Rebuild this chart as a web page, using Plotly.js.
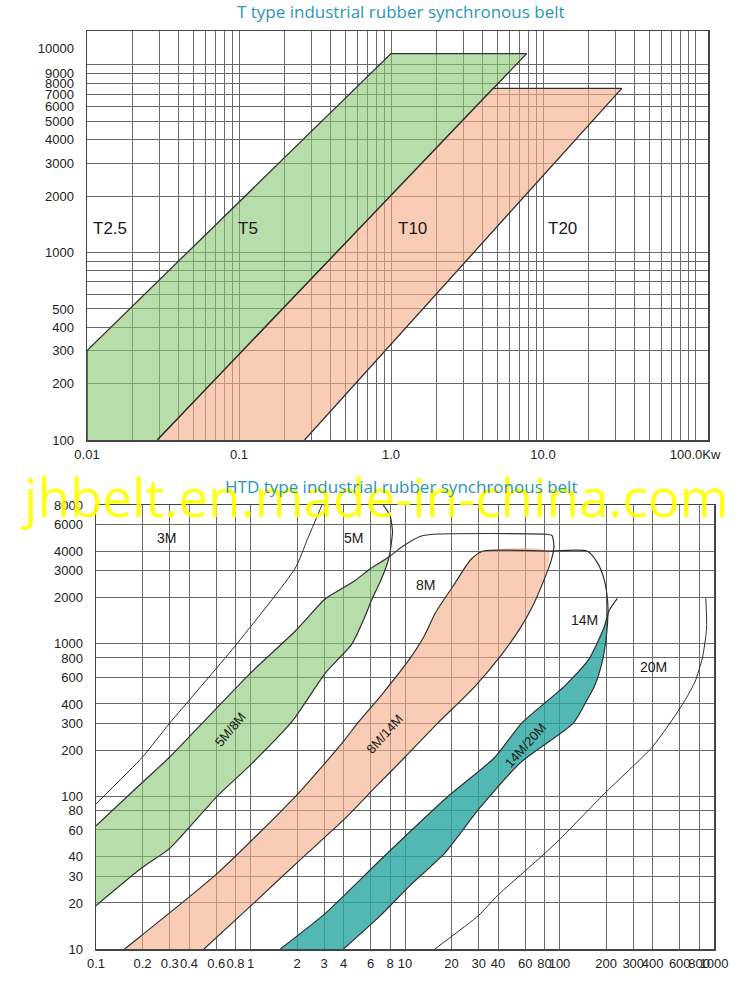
<!DOCTYPE html>
<html><head><meta charset="utf-8">
<script src="https://cdn.plot.ly/plotly-3.0.1.min.js"></script>
<style>html,body{margin:0;padding:0;background:#fff}#chart{width:750px;height:985px}</style>
</head><body><div id="chart"></div>
<script>
// ---------- TOP CHART (T type) ----------
const topXTicks = [0.01,0.02,0.03,0.04,0.05,0.06,0.07,0.08,0.09,0.1,0.2,0.3,0.4,0.5,0.6,0.7,0.8,0.9,1,2,3,4,5,6,7,8,9,10,20,30,40,50,60,70,80,90,100];
const topXText  = ['0.01','','','','','','','','','0.1','','','','','','','','','1.0','','','','','','','','','10.0','','','','','','','','','100.0Kw'];
const topYTicks = [100,200,300,400,500,600,700,800,900,1000,2000,3000,4000,5000,6000,7000,8000,9000,10000];
const topYText  = ['100','200','300','400','500','','','','','1000','2000','3000','4000','5000','6000','7000','8000','9000','10000<br> <br> '];

const t5X = [0.01, 0.01, 1.0, 7.8, 0.029];
const t5Y = [100, 300, 11500, 11500, 100];
const t10X = [0.029, 4.7, 33, 0.27];
const t10Y = [100, 7500, 7500, 100];

// ---------- BOTTOM CHART (HTD type) ----------
const botXTicks = [0.1,0.2,0.3,0.4,0.6,0.8,1,2,3,4,6,8,10,20,30,40,60,80,100,200,300,400,600,800,1000];
const botXText  = ['0.1','0.2','0.3','0.4','0.6','0.8','1','2','3','4','6','8','10','20','30','40','60','80','100','200','300','400','600','800','1000'];
const botYTicks = [10,20,30,40,60,80,100,200,300,400,600,800,1000,2000,3000,4000,6000,8000];
const botYText  = ['10','20','30','40','60','80','100','200','300','400','600','800','1000','2000','3000','4000','6000','8000'];

const m3X = [0.1, 0.2, 0.3, 0.79, 1.95, 2.33, 2.9];
const m3Y = [89, 180, 300, 950, 3100, 4750, 8000];

const greenUpperX = [0.1, 0.2, 0.3, 0.5, 1.0, 1.95, 3.05, 3.72, 4.73, 6.0, 7.9];
const greenUpperY = [64, 123, 180, 308, 637, 1200, 1950, 2210, 2560, 3080, 3670];
const greenLowerX = [0.1, 0.2, 0.3, 0.61, 1.0, 1.87, 3.05, 4.54, 5.44, 6.1, 6.87, 7.47, 7.9];
const greenLowerY = [19.2, 34.2, 45.5, 100, 160, 310, 637, 990, 1450, 1930, 2490, 3050, 3670];
const m5CapX = [8.18, 8.3, 8.0, 7.23];
const m5CapY = [4610, 5370, 6800, 8000];
const m8TopX = [9.57, 12.5, 15.1, 82.6, 89.5, 92, 88];
const m8TopY = [4260, 4980, 5150, 5150, 5050, 4260, 3420];

const pinkLeftX = [0.153, 0.2, 0.61, 2.02, 4, 4.93, 7.11, 10.6, 13.3, 15.8, 20.6, 26.6, 32.1];
const pinkLeftY = [10, 12.4, 31.2, 103, 228, 300, 463, 776, 1110, 1590, 2380, 3510, 4000];
const pinkRightX = [85.3, 80, 67.5, 55.3, 42.2, 27.8, 16.3, 9.9, 6.52, 4, 2.02, 1.08, 0.5];
const pinkRightY = [4000, 2640, 1770, 1240, 842, 510, 300, 178, 116, 69.8, 37, 20.5, 10];

const m14CapX = [151, 177, 194, 203, 206];
const m14CapY = [4000, 3320, 2630, 2060, 1620];
const tealLowerX = [200, 187, 169, 151, 123, 56.9, 30, 18.2, 10.6, 6.87, 4];
const tealLowerY = [1060, 720, 527, 427, 300, 168, 82, 42.7, 25.6, 16.4, 10];
const tealUpperX = [1.56, 3.05, 6.87, 19.1, 37.9, 56.9, 85.3, 107, 154, 194, 210, 237];
const tealUpperY = [10, 17.1, 37.9, 100, 178, 300, 427, 519, 776, 1260, 1640, 1960];

const m20X = [885, 895, 841, 755, 653, 519, 395, 194, 100, 80, 39.6, 30, 15.6];
const m20Y = [1970, 1240, 800, 562, 427, 300, 207, 103, 51.9, 42, 22.3, 16.6, 10];

// ---------- build traces ----------
const LINE = '#303030';
function fillTrace(x, y, color, xa, ya, lw, smooth) {
  const line = {color:LINE, width:lw};
  if (smooth) { line.shape = 'spline'; line.smoothing = 0.6; }
  return {type:'scatter', mode:'lines', x:x, y:y, fill:'toself', fillcolor:color,
    line:line, xaxis:xa, yaxis:ya, hoverinfo:'skip'};
}
function lineTrace(x, y, xa, ya, w) {
  return {type:'scatter', mode:'lines', x:x, y:y,
    line:{color:LINE, width:w, shape:'spline', smoothing:0.6},
    xaxis:xa, yaxis:ya, hoverinfo:'skip'};
}

const traces = [
  fillTrace(t5X, t5Y, 'rgba(133,198,113,0.6)', 'x', 'y', 1.3, false),
  fillTrace(t10X, t10Y, 'rgba(246,172,135,0.62)', 'x', 'y', 1.3, false),

  fillTrace(greenUpperX.concat(greenLowerX.slice().reverse()),
            greenUpperY.concat(greenLowerY.slice().reverse()),
            'rgba(133,198,113,0.6)', 'x2', 'y2', 0, true),
  fillTrace(pinkLeftX.concat(pinkRightX), pinkLeftY.concat(pinkRightY),
            'rgba(246,172,135,0.62)', 'x2', 'y2', 0, true),
  fillTrace(tealUpperX.slice(0,10).concat([m14CapX[4]], tealLowerX),
            tealUpperY.slice(0,10).concat([m14CapY[4]], tealLowerY),
            'rgba(40,166,160,0.8)', 'x2', 'y2', 0, true),

  lineTrace(m3X, m3Y, 'x2', 'y2', 1),
  lineTrace(greenLowerX.concat(m5CapX), greenLowerY.concat(m5CapY), 'x2', 'y2', 1.2),
  lineTrace(greenUpperX.concat(m8TopX, pinkRightX.slice(1)),
            greenUpperY.concat(m8TopY, pinkRightY.slice(1)), 'x2', 'y2', 1.2),
  lineTrace(pinkLeftX.concat([pinkRightX[0]], m14CapX, tealLowerX),
            pinkLeftY.concat([pinkRightY[0]], m14CapY, tealLowerY), 'x2', 'y2', 1.2),
  lineTrace(tealUpperX, tealUpperY, 'x2', 'y2', 1.2),
  lineTrace(m20X, m20Y, 'x2', 'y2', 1)
];

const GRID = '#6a6a6a';
const tickFont = {family:'Liberation Sans, Arial, sans-serif', size:13, color:'#222'};
function axis(extra) {
  return Object.assign({type:'log', showgrid:true, gridcolor:GRID, gridwidth:1,
    showline:true, mirror:true, linecolor:'#444', linewidth:1.5, zeroline:false,
    tickmode:'array', tickangle:0, ticks:'outside', tickcolor:'rgba(0,0,0,0)',
    tickfont:tickFont, fixedrange:true}, extra);
}

const W = 750, H = 985;
const px = v => v / W;
const py = v => 1 - v / H;
const labFont = {family:'Liberation Sans, Arial, sans-serif', size:14, color:'#1a1a1a'};
const rotFont = {family:'Liberation Sans, Arial, sans-serif', size:13, color:'#1a1a1a'};
const tFont = {family:'Liberation Sans, Arial, sans-serif', size:17, color:'#1a1a1a'};
const titleFont = {family:'Open Sans, sans-serif', size:17, color:'#2a95b8'};
function ann(text, x, y, font, angle) {
  return {text:text, x:px(x), y:py(y), xref:'paper', yref:'paper', showarrow:false,
    xanchor:'center', yanchor:'middle', font:font, textangle:angle || 0};
}

const layout = {
  width:W, height:H, margin:{l:0, r:0, t:0, b:0},
  paper_bgcolor:'#fff', plot_bgcolor:'#fff', showlegend:false,
  xaxis: axis({range:[-2, 2.0855], domain:[px(87), px(708)], anchor:'y',
    tickvals:topXTicks, ticktext:topXText, ticklen:2}),
  yaxis: axis({range:[2, 4.1813], domain:[py(440), py(31)], anchor:'x',
    tickvals:topYTicks, ticktext:topYText, ticklen:9}),
  xaxis2: axis({range:[-1, 3], domain:[px(96), px(714)], anchor:'y2',
    tickvals:botXTicks, ticktext:botXText, ticklen:2}),
  yaxis2: axis({range:[1, Math.log10(8000)], domain:[py(949), py(505)], anchor:'x2',
    tickvals:botYTicks, ticktext:botYText, ticklen:9}),
  annotations: [
    ann('T type industrial rubber synchronous belt', 401, 12, titleFont),
    ann('T2.5', 110, 228, tFont), ann('T5', 248, 228, tFont),
    ann('T10', 412, 228, tFont), ann('T20', 562, 228, tFont),
    ann('jhbelt.en.made-in-china.com', 375, 496,
        {family:'Open Sans, sans-serif', size:53, color:'rgba(255,255,0,0.9)'}),
    ann('HTD type industrial rubber synchronous belt', 401, 487, titleFont),
    ann('3M', 166, 538, labFont), ann('5M', 353, 538, labFont),
    ann('8M', 425, 585, labFont), ann('14M', 584, 620, labFont),
    ann('20M', 653, 667, labFont),
    ann('5M/8M', 230, 729, rotFont, -50),
    ann('8M/14M', 384, 734, rotFont, -48),
    ann('14M/20M', 525, 745, rotFont, -48)
  ]
};

Plotly.newPlot('chart', traces, layout, {staticPlot:true, displayModeBar:false});
</script>
</body></html>
